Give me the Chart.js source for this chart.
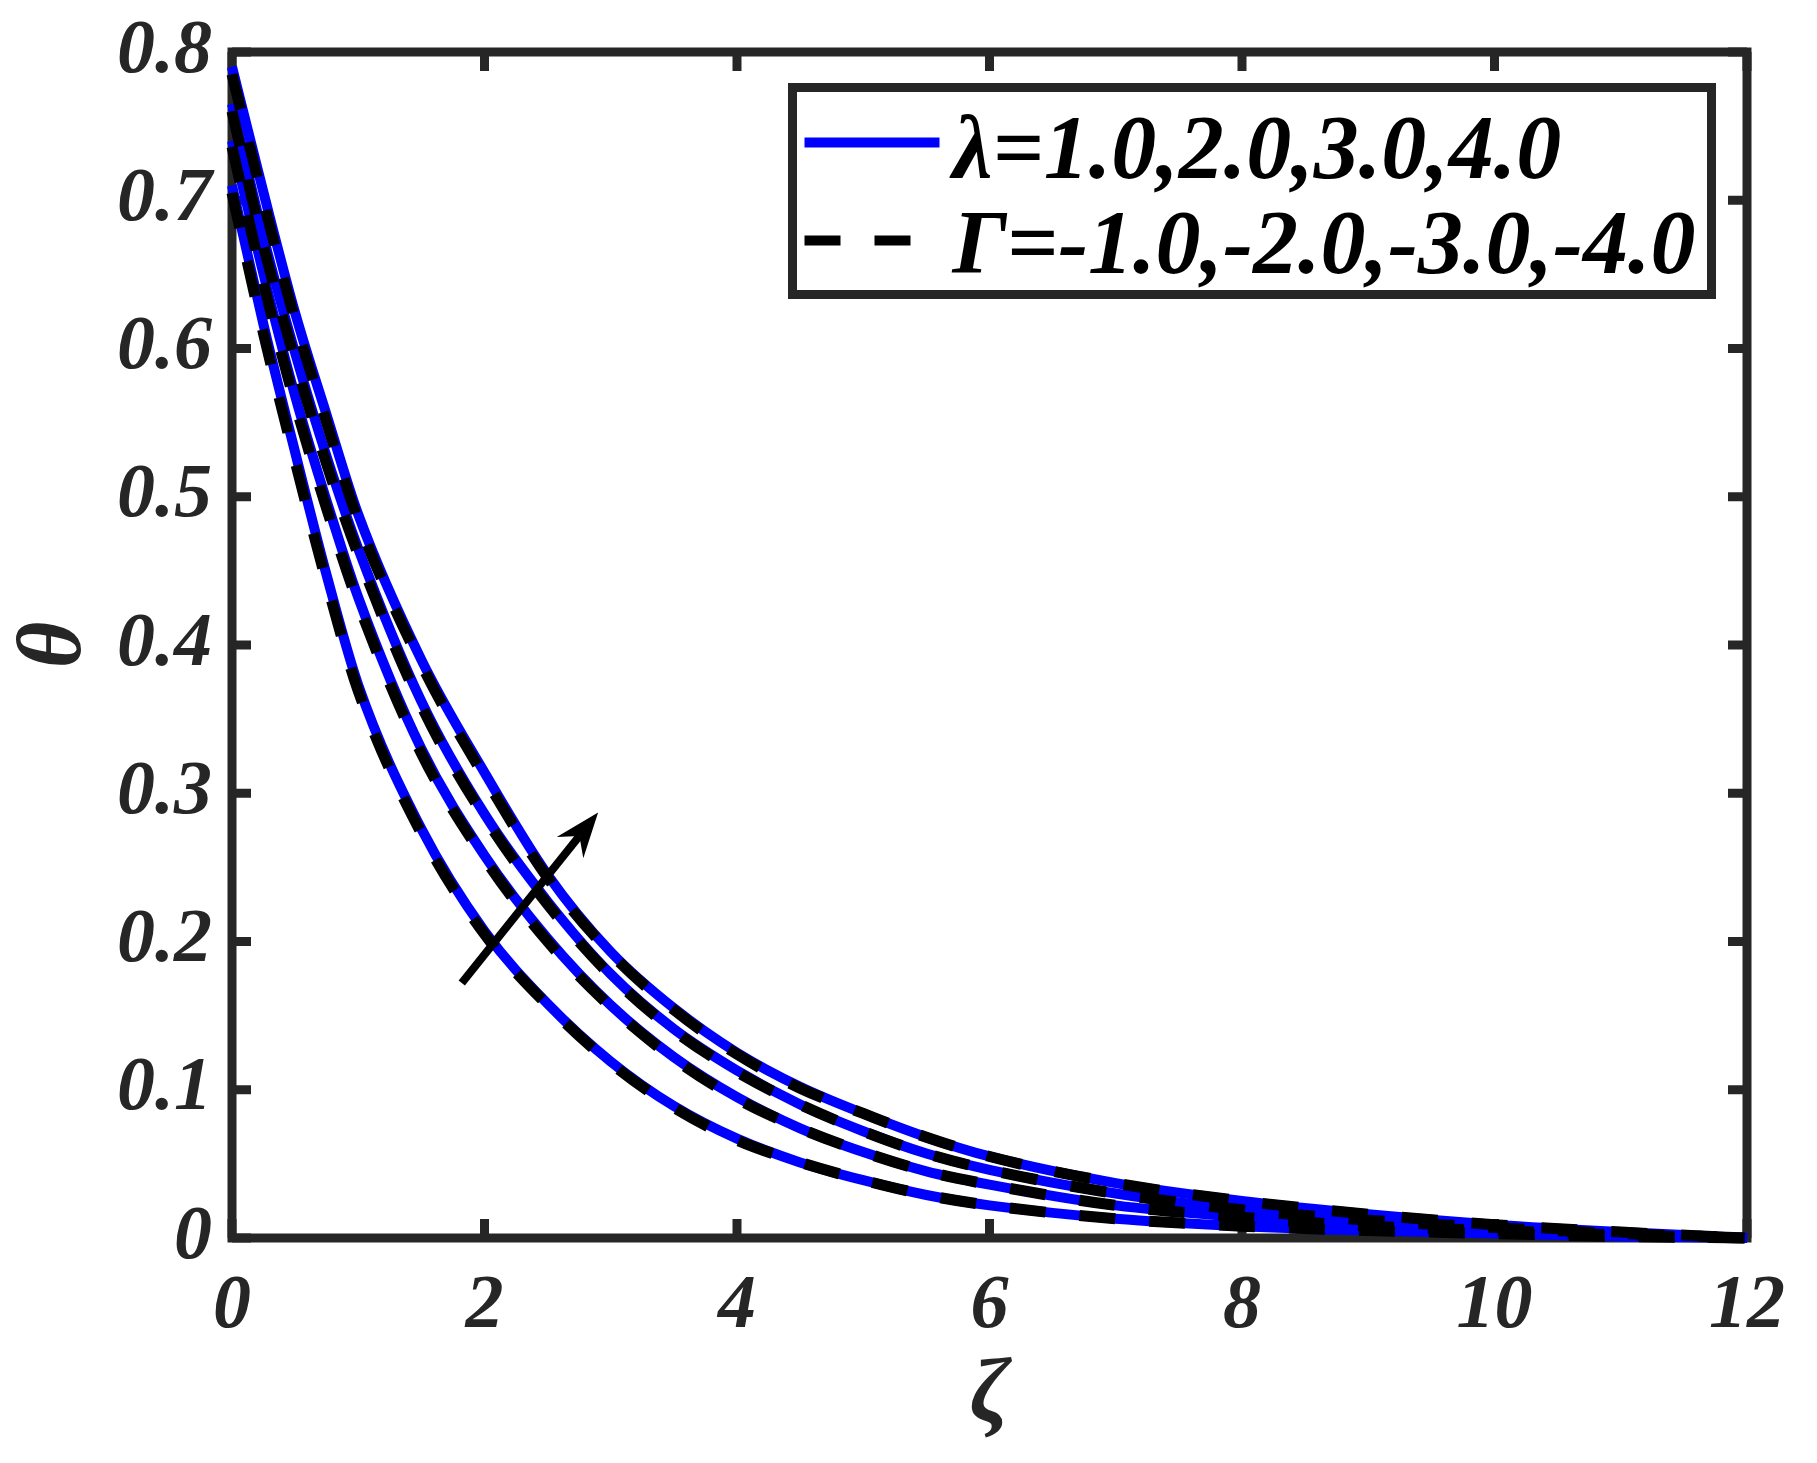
<!DOCTYPE html>
<html>
<head>
<meta charset="utf-8">
<script src="https://cdn.jsdelivr.net/npm/chart.js@4.4.0/dist/chart.umd.min.js"></script>
<style>
html, body { margin: 0; padding: 0; background: #fff; }
</style>
</head>
<body>
<canvas id="theta-chart" width="1817" height="1463"></canvas>
<script>
// values
var zeta = [0, 0.25, 0.5, 0.75, 1, 1.5, 2, 2.5, 3, 3.5, 4, 4.5, 5, 5.5, 6, 7, 8, 9, 10, 11, 12];

// solid blue: lambda = 1.0, 2.0, 3.0, 4.0
var lambda1 = [0.710, 0.616, 0.530, 0.447, 0.373, 0.276, 0.207, 0.158, 0.119, 0.089, 0.067, 0.051, 0.039, 0.029, 0.022, 0.013, 0.008, 0.005, 0.003, 0.001, 0.000];
var lambda2 = [0.740, 0.650, 0.568, 0.497, 0.432, 0.330, 0.258, 0.202, 0.157, 0.122, 0.095, 0.074, 0.058, 0.045, 0.036, 0.022, 0.014, 0.008, 0.005, 0.002, 0.000];
var lambda3 = [0.765, 0.675, 0.597, 0.527, 0.465, 0.362, 0.286, 0.227, 0.178, 0.141, 0.113, 0.090, 0.072, 0.057, 0.046, 0.030, 0.019, 0.012, 0.007, 0.003, 0.000];
var lambda4 = [0.790, 0.705, 0.624, 0.555, 0.488, 0.390, 0.314, 0.245, 0.193, 0.155, 0.125, 0.102, 0.084, 0.068, 0.055, 0.037, 0.025, 0.016, 0.009, 0.004, 0.000];

// dashed black: Gamma = -1.0, -2.0, -3.0, -4.0
var gamma1 = [0.705, 0.610, 0.524, 0.442, 0.369, 0.273, 0.205, 0.157, 0.118, 0.088, 0.066, 0.051, 0.039, 0.029, 0.022, 0.013, 0.008, 0.005, 0.003, 0.001, 0.000];
var gamma2 = [0.736, 0.644, 0.563, 0.492, 0.428, 0.327, 0.256, 0.200, 0.156, 0.121, 0.094, 0.074, 0.058, 0.045, 0.036, 0.022, 0.014, 0.008, 0.005, 0.002, 0.000];
var gamma3 = [0.760, 0.669, 0.592, 0.522, 0.461, 0.359, 0.284, 0.225, 0.177, 0.140, 0.112, 0.090, 0.072, 0.057, 0.046, 0.030, 0.019, 0.012, 0.007, 0.003, 0.000];
var gamma4 = [0.785, 0.699, 0.619, 0.550, 0.484, 0.387, 0.311, 0.243, 0.192, 0.154, 0.124, 0.101, 0.084, 0.068, 0.055, 0.037, 0.025, 0.016, 0.009, 0.004, 0.000];

var xTicks = [0, 2, 4, 6, 8, 10, 12];
var xTickLabels = ['0', '2', '4', '6', '8', '10', '12'];
var yTicks = [0, 0.1, 0.2, 0.3, 0.4, 0.5, 0.6, 0.7, 0.8];
var yTickLabels = ['0', '0.1', '0.2', '0.3', '0.4', '0.5', '0.6', '0.7', '0.8'];

var legendLabels = ['\u03bb=1.0,2.0,3.0,4.0', '\u0393=-1.0,-2.0,-3.0,-4.0'];

// arrow drawn in data units: tail -> head
var arrowFrom = [1.82, 0.172];
var arrowTo = [2.90, 0.287];

var SERIF = "'Liberation Serif', 'Times New Roman', serif";
var INK = '#262626';

function pts(ys) {
    return zeta.map(function (x, i) { return { x: x, y: ys[i] }; });
}

function solid(label, ys) {
    return {
        label: label, data: pts(ys), borderColor: '#0000ff', borderWidth: 10,
        pointRadius: 0, cubicInterpolationMode: 'monotone', fill: false, clip: false, order: 1
    };
}

function dashed(label, ys) {
    return {
        label: label, data: pts(ys), borderColor: '#000000', borderWidth: 11,
        borderDash: [36, 34], pointRadius: 0, cubicInterpolationMode: 'monotone',
        fill: false, clip: false, order: 0
    };
}

var framePlugin = {
    id: 'frame',
    beforeDatasetsDraw: function (chart) {
        var ctx = chart.ctx, a = chart.chartArea;
        var xs = chart.scales.x, ys = chart.scales.y;
        var tl = 19;
        ctx.save();
        ctx.strokeStyle = INK;
        ctx.lineWidth = 9;
        ctx.lineCap = 'butt';
        ctx.beginPath();
        xTicks.forEach(function (v) {
            var px = xs.getPixelForValue(v);
            ctx.moveTo(px, a.bottom); ctx.lineTo(px, a.bottom - tl);
            ctx.moveTo(px, a.top); ctx.lineTo(px, a.top + tl);
        });
        yTicks.forEach(function (v) {
            var py = ys.getPixelForValue(v);
            ctx.moveTo(a.left, py); ctx.lineTo(a.left + tl, py);
            ctx.moveTo(a.right, py); ctx.lineTo(a.right - tl, py);
        });
        ctx.stroke();
        ctx.strokeRect(a.left, a.top, a.right - a.left, a.bottom - a.top);
        ctx.restore();
    }
};

var arrowPlugin = {
    id: 'arrow',
    afterDatasetsDraw: function (chart) {
        var ctx = chart.ctx, xs = chart.scales.x, ys = chart.scales.y;
        var x0 = xs.getPixelForValue(arrowFrom[0]), y0 = ys.getPixelForValue(arrowFrom[1]);
        var x1 = xs.getPixelForValue(arrowTo[0]), y1 = ys.getPixelForValue(arrowTo[1]);
        var len = Math.hypot(x1 - x0, y1 - y0);
        var ux = (x1 - x0) / len, uy = (y1 - y0) / len;
        var nx = -uy, ny = ux;
        var hl = 45, hw = 17, back = 30;
        ctx.save();
        ctx.strokeStyle = '#000';
        ctx.fillStyle = '#000';
        ctx.lineWidth = 8;
        ctx.beginPath();
        ctx.moveTo(x0, y0);
        ctx.lineTo(x1 - ux * back, y1 - uy * back);
        ctx.stroke();
        ctx.beginPath();
        ctx.moveTo(x1, y1);
        ctx.lineTo(x1 - ux * hl + nx * hw, y1 - uy * hl + ny * hw);
        ctx.lineTo(x1 - ux * back, y1 - uy * back);
        ctx.lineTo(x1 - ux * hl - nx * hw, y1 - uy * hl - ny * hw);
        ctx.closePath();
        ctx.fill();
        ctx.restore();
    }
};

var legendPlugin = {
    id: 'boxLegend',
    afterDraw: function (chart) {
        var ctx = chart.ctx, a = chart.chartArea;
        var ds = chart.data.datasets;
        var right = a.right - 35.5, left = 792.5, top = a.top + 35.5, bottom = a.top + 242.5;
        ctx.save();
        ctx.fillStyle = '#fff';
        ctx.fillRect(left, top, right - left, bottom - top);
        ctx.strokeStyle = INK;
        ctx.lineWidth = 9;
        ctx.strokeRect(left, top, right - left, bottom - top);

        var rows = [{ set: ds[0], y: top + 55, base: top + 90 }, { set: ds[4], y: top + 153, base: top + 185 }];
        rows.forEach(function (r, i) {
            ctx.beginPath();
            ctx.strokeStyle = r.set.borderColor;
            ctx.lineWidth = 10;
            ctx.setLineDash(r.set.borderDash || []);
            ctx.moveTo(left + 12, r.y);
            ctx.lineTo(left + 147, r.y);
            ctx.stroke();
            ctx.setLineDash([]);
            ctx.fillStyle = '#000';
            ctx.font = 'italic bold 90px ' + SERIF;
            ctx.textBaseline = 'alphabetic';
            ctx.textAlign = 'left';
            ctx.fillText(legendLabels[i], left + 160, r.base);
        });
        ctx.restore();
    }
};

var tickFont = { family: SERIF, size: 76, style: 'italic', weight: 'bold', lineHeight: 1.2 };
var titleFont = { family: SERIF, size: 90, style: 'italic', weight: 'bold', lineHeight: 1 };

function noPad(s) {
    s.paddingTop = 0; s.paddingBottom = 0; s.paddingLeft = 0; s.paddingRight = 0;
}

var ctxTheta = document.getElementById('theta-chart').getContext('2d');
var thetaChart = new Chart(ctxTheta, {
    type: 'line',
    data: {
        datasets: [
            solid('\u03bb=1.0', lambda1), solid('\u03bb=2.0', lambda2),
            solid('\u03bb=3.0', lambda3), solid('\u03bb=4.0', lambda4),
            dashed('\u0393=-1.0', gamma1), dashed('\u0393=-2.0', gamma2),
            dashed('\u0393=-3.0', gamma3), dashed('\u0393=-4.0', gamma4)
        ]
    },
    options: {
        responsive: false,
        animation: false,
        layout: { padding: { left: 0, top: 52, right: 70, bottom: 0 } },
        plugins: { legend: { display: false }, tooltip: { enabled: false } },
        scales: {
            x: {
                type: 'linear', min: 0, max: 12,
                afterFit: function (s) { s.height = 225; noPad(s); },
                afterBuildTicks: function (s) { s.ticks = xTicks.map(function (v) { return { value: v }; }); },
                grid: { display: false, drawTicks: false },
                border: { display: false },
                ticks: {
                    maxRotation: 0, autoSkip: false, padding: 24, color: INK, font: tickFont,
                    callback: function (v, i) { return xTickLabels[i]; }
                },
                title: { display: true, text: '\u03b6', color: INK, font: titleFont, padding: { top: 0, bottom: 20 } }
            },
            y: {
                type: 'linear', min: 0, max: 0.8,
                afterFit: function (s) { s.width = 232; noPad(s); },
                afterBuildTicks: function (s) { s.ticks = yTicks.map(function (v) { return { value: v }; }); },
                grid: { display: false, drawTicks: false },
                border: { display: false },
                ticks: {
                    autoSkip: false, padding: 20, color: INK, font: tickFont,
                    callback: function (v, i) { return yTickLabels[i]; }
                },
                title: { display: true, text: '\u03b8', color: INK, font: titleFont, padding: { top: 12, bottom: 0 } }
            }
        }
    },
    plugins: [framePlugin, arrowPlugin, legendPlugin]
});
</script>
</body>
</html>
